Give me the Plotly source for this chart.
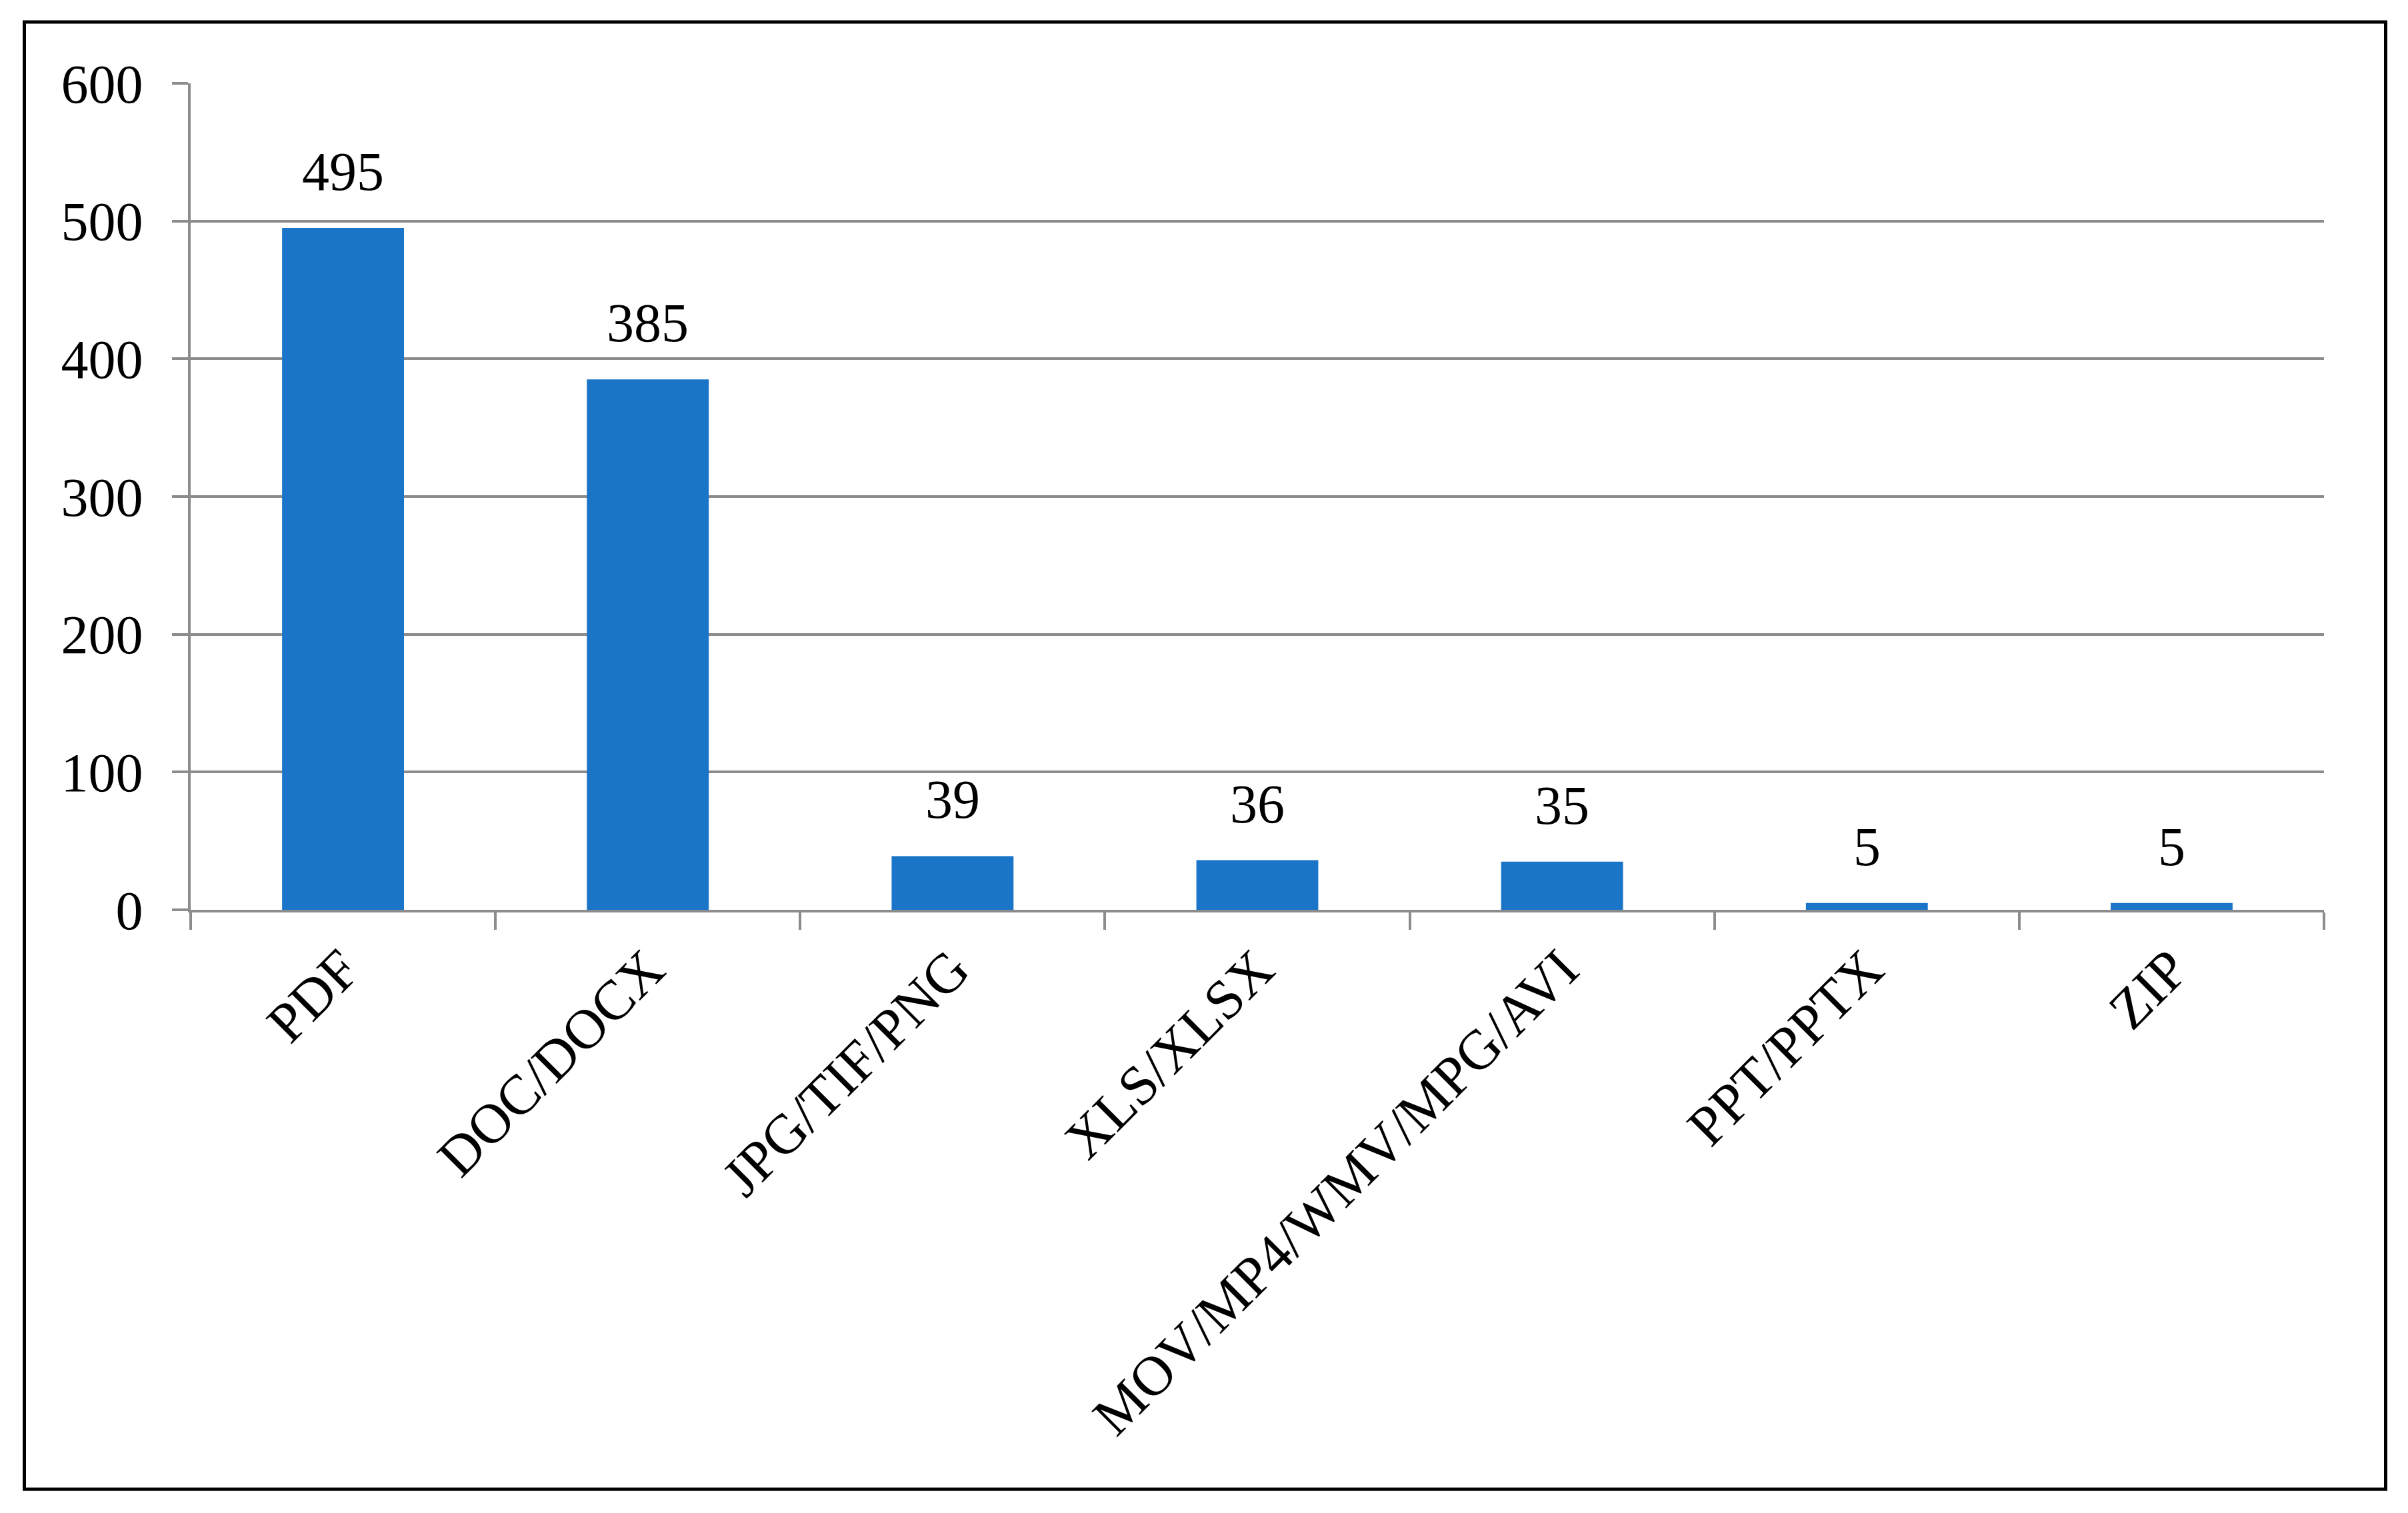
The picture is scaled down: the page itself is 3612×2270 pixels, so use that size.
import plotly.graph_objects as go

categories = ["PDF", "DOC/DOCX", "JPG/TIF/PNG", "XLS/XLSX", "MOV/MP4/WMV/MPG/AVI", "PPT/PPTX", "ZIP"]
values = [495, 385, 39, 36, 35, 5, 5]
y_ticks = [0, 100, 200, 300, 400, 500, 600]

W, H = 3612, 2270
L, R, T, B = 286, 3486, 124.5, 1365.5  # plot area pixels
FONT = "Liberation Serif"
GRAY = "#8c8c8c"
BAR = "#1a74c8"
FS = 82

fig = go.Figure()
fig.add_trace(go.Bar(x=categories, y=values, marker=dict(color=BAR, line=dict(width=0)),
                     width=0.4, hoverinfo="skip"))

for c, v in zip(categories, values):
    fig.add_annotation(x=c, y=v, text=str(v), showarrow=False, yanchor="bottom",
                       yshift=37, font=dict(family=FONT, size=FS, color="black"))

def px_x(p):
    return (p - L) / (R - L)

def px_y(p):
    return (B - p) / (B - T)

fig.add_shape(type="rect", xref="paper", yref="paper",
              x0=px_x(36.5), x1=px_x(3578.5), y0=px_y(2235.5), y1=px_y(32.5),
              line=dict(color="black", width=5), fillcolor="rgba(0,0,0,0)", layer="above")

fig.update_layout(
    width=W, height=H,
    margin=dict(l=L, r=W - R, t=T, b=H - B, autoexpand=False),
    paper_bgcolor="white", plot_bgcolor="white",
    showlegend=False,
    font=dict(family=FONT, size=FS, color="black"),
    bargap=0.6,
)
fig.update_xaxes(
    type="category", showline=True, linecolor=GRAY, linewidth=4,
    ticks="outside", tickson="boundaries", ticklen=26, tickwidth=4, tickcolor=GRAY,
    tickangle=-45, tickfont=dict(family=FONT, size=84, color="black"),
    showgrid=False, zeroline=False, range=[-0.5, 6.5], ticklabelstandoff=2,
)
fig.update_yaxes(
    range=[0, 600], tickvals=y_ticks, showline=True, linecolor=GRAY, linewidth=4,
    ticks="outside", ticklen=24, tickwidth=4, tickcolor=GRAY,
    showgrid=True, gridcolor=GRAY, gridwidth=4, zeroline=False,
    tickfont=dict(family=FONT, size=FS, color="black"), ticklabelstandoff=27,
)

fig.write_html("out.html", config={"displayModeBar": False},
               post_script="document.body.style.margin='0';document.body.style.overflow='hidden';")
